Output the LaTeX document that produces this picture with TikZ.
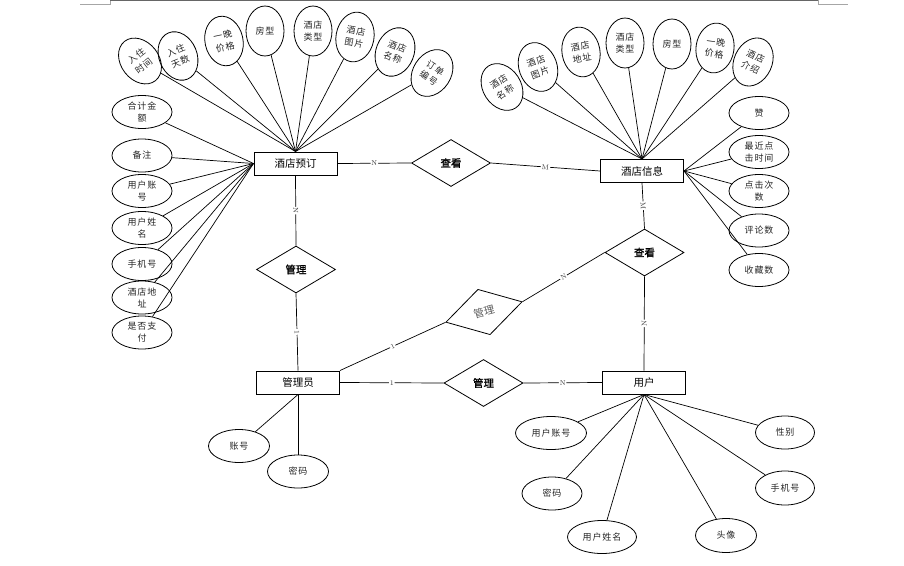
\documentclass[tikz,border=0pt]{standalone}
\usepackage{fontspec}
\newfontfamily\cjk{Noto Sans CJK SC}
\newfontfamily\cjks[LetterSpace=10]{Noto Sans CJK SC}
\newfontfamily\cjkb[FakeBold=1.2]{Noto Sans CJK SC}
\usetikzlibrary{shapes.geometric}
\begin{document}
\begin{tikzpicture}[x=1pt,y=-1pt,
  ent/.style={draw,line width=1pt,rectangle,minimum width=83pt,minimum height=23pt,inner sep=0pt,font=\cjk\fontsize{10.5}{12}\selectfont},
  rel/.style={draw,line width=0.8pt,diamond,minimum width=79pt,minimum height=47pt,inner sep=0pt,font=\cjkb\fontsize{10.5}{12}\selectfont},
  attr/.style={draw,line width=0.8pt,ellipse,inner sep=0pt,align=center,font=\cjks\fontsize{9}{12}\selectfont,text=black!85},
  tattr/.style={attr,minimum width=38pt,minimum height=50pt},
  wattr/.style={attr,minimum width=60pt,minimum height=33pt},
  ln/.style={line width=0.7pt},
  card/.style={fill=white,inner sep=0.8pt,font=\fontsize{7}{8}\selectfont,sloped,text=black!80}
]
\useasboundingbox (0,0) rectangle (904,565);
% page corner marks
\draw[black!35,line width=0.8pt] (80,4) -- (110,4) -- (110,0);
\draw[black!60,line width=1pt] (110,0.5) -- (818,0.5);
\draw[black!35,line width=0.8pt] (818,0) -- (818,4) -- (848,4);

% entities
\node[ent] (bk) at (295.5,163.5) {酒店预订};
\node[ent] (info) at (642,171) {酒店信息};
\node[ent] (adm) at (298,382.5) {管理员};
\node[ent] (usr) at (644,382.5) {用户};

% relations
\node[rel] (ck1) at (451,163) {查看};
\node[rel] (mg1) at (296,269.5) {管理};
\node[rel] (ck2) at (644.5,252.5) {查看};
\node[rel] (mg3) at (483.5,383) {管理};
\node[rel,rotate=15,font=\cjk\fontsize{10.5}{12}\selectfont,text=black!65] (mg2) at (484,312) {管理};

% relation connectors
\draw[ln] (bk.east) -- node[card]{N} (ck1.west);
\draw[ln] (ck1.east) -- node[card]{M} (info.west);
\draw[ln] (bk.south) -- node[card]{N} (mg1.north);
\draw[ln] (mg1.south) -- node[card]{1} (adm.north);
\draw[ln] (adm.north east) -- node[card]{1} (mg2.west);
\draw[ln] (mg2.east) -- node[card]{N} (ck2.west);
\draw[ln] (info.south) -- node[card]{M} (ck2.north);
\draw[ln] (ck2.south) -- node[card]{N} (usr.north);
\draw[ln] (adm.east) -- node[card]{1} (mg3.west);
\draw[ln] (mg3.east) -- node[card]{N} (usr.west);

% booking top attributes
\node[tattr,rotate=38] (b1) at (140,61) {入住\\时间};
\node[tattr,rotate=22] (b2) at (178,56) {入住\\天数};
\node[tattr,rotate=12] (b3) at (224,41) {一晚\\价格};
\node[tattr] (b4) at (265,31) {房型};
\node[tattr] (b5) at (313,31) {酒店\\类型};
\node[tattr,rotate=-10] (b6) at (355,37) {酒店\\图片};
\node[tattr,rotate=-22] (b7) at (395,52) {酒店\\名称};
\node[tattr,rotate=-33] (b8) at (432,73) {订单\\编号};
\foreach \n in {b1,b2,b3,b4,b5,b6,b7,b8} \draw[ln] (bk.north) -- (\n);

% booking left attributes
\node[wattr] (l1) at (142,112) {合计金\\额};
\node[wattr] (l2) at (142,155.5) {备注};
\node[wattr] (l3) at (142,191) {用户账\\号};
\node[wattr] (l4) at (142,228) {用户姓\\名};
\node[wattr] (l5) at (142,264) {手机号};
\node[wattr] (l6) at (142,297.5) {酒店地\\址};
\node[wattr] (l7) at (142,332.5) {是否支\\付};
\foreach \n in {l1,l2,l3,l4,l5,l6,l7} \draw[ln] (bk.west) -- (\n);

% info top attributes
\node[tattr,rotate=33] (i1) at (502,87) {酒店\\名称};
\node[tattr,rotate=20] (i2) at (538,67) {酒店\\图片};
\node[tattr,rotate=10] (i3) at (581,52) {酒店\\地址};
\node[tattr] (i4) at (625,43) {酒店\\类型};
\node[tattr] (i5) at (672,44) {房型};
\node[tattr,rotate=-8] (i6) at (715,48) {一晚\\价格};
\node[tattr,rotate=-25] (i7) at (753,62) {酒店\\介绍};
\foreach \n in {i1,i2,i3,i4,i5,i6,i7} \draw[ln] (info.north) -- (\n);

% info right attributes
\node[wattr] (r1) at (759,113) {赞};
\node[wattr] (r2) at (759,152) {最近点\\击时间};
\node[wattr] (r3) at (759,191) {点击次\\数};
\node[wattr] (r4) at (759,230.5) {评论数};
\node[wattr] (r5) at (759,270) {收藏数};
\foreach \n in {r1,r2,r3,r4,r5} \draw[ln] (info.east) -- (\n);

% admin attributes
\node[wattr,minimum width=61pt] (a1) at (239,446) {账号};
\node[wattr,minimum width=61pt] (a2) at (298,471.5) {密码};
\draw[ln] (adm.south) -- (a1);
\draw[ln] (adm.south) -- (a2);

% user attributes
\node[wattr,minimum width=71pt] (u1) at (551,433) {用户账号};
\node[wattr] (u2) at (552,493.5) {密码};
\node[wattr,minimum width=69pt] (u3) at (602,537) {用户姓名};
\node[wattr,minimum width=61pt,minimum height=34pt] (u4) at (726,535.5) {头像};
\node[wattr,minimum width=59pt,minimum height=34pt] (u5) at (785,488) {手机号};
\node[wattr,minimum width=59pt] (u6) at (785,432.5) {性别};
\foreach \n in {u1,u2,u3,u4,u5,u6} \draw[ln] (usr.south) -- (\n);
\end{tikzpicture}
\end{document}
